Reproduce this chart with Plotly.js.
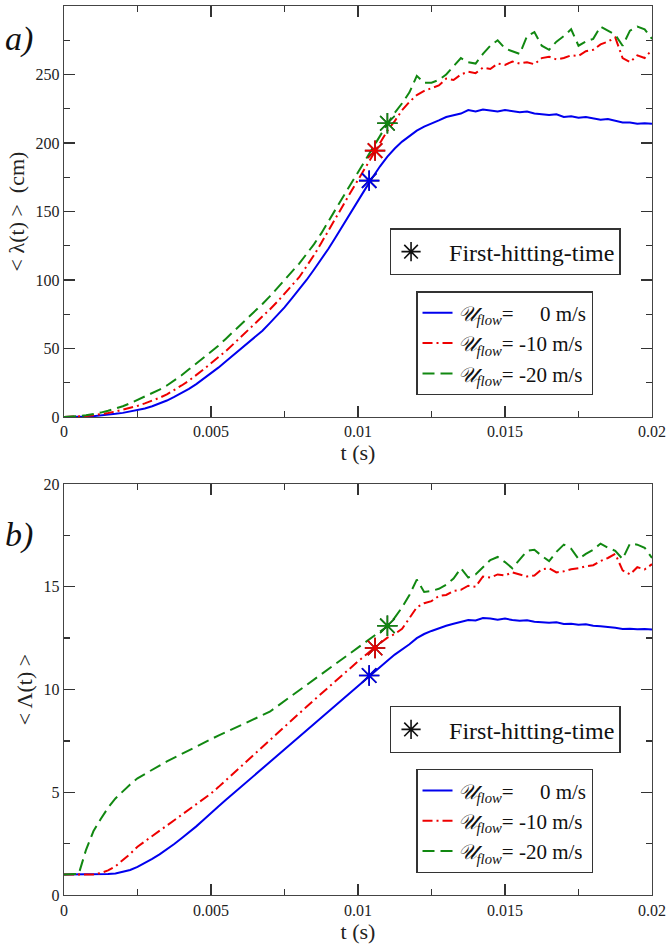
<!DOCTYPE html>
<html><head><meta charset="utf-8">
<script src="https://cdn.plot.ly/plotly-3.0.1.min.js"></script>
<style>html,body{margin:0;padding:0;background:#fff}
.plab{position:absolute;left:5px;font-family:"Liberation Serif","Times New Roman",serif;font-style:italic;font-size:34px;line-height:34px;color:#111}</style>
</head><body>
<div id="chart" style="width:666px;height:948px"></div>
<script>
// time grid (s)
const t = [0,0.00025,0.0005,0.00075,0.001,0.00125,0.0015,0.00175,0.002,0.00225,
0.0025,0.00275,0.003,0.00325,0.0035,0.00375,0.004,0.00425,0.0045,0.00475,
0.005,0.00525,0.0055,0.00575,0.006,0.00625,0.0065,0.00675,0.007,0.00725,
0.0075,0.00775,0.008,0.00825,0.0085,0.00875,0.009,0.00925,0.0095,0.00975,
0.01,0.01025,0.0105,0.01075,0.011,0.01125,0.0115,0.01175,0.012,0.01225,
0.0125,0.01275,0.013,0.01325,0.0135,0.01375,0.014,0.01425,0.0145,0.01475,
0.015,0.01525,0.0155,0.01575,0.016,0.01625,0.0165,0.01675,0.017,0.01725,
0.0175,0.01775,0.018,0.01825,0.0185,0.01875,0.019,0.01925,0.0195,0.01975,0.02];

// panel a: <lambda(t)> (cm)
const lam0 = [0,0,0.1,0.3,0.6,1.0,1.6,2.3,3.0,3.9,
4.8,6.2,7.8,9.8,12.0,14.6,17.4,20.5,24.0,27.8,
32,36,40.5,45,50,54.5,58.5,63,68.5,74,
80,86.5,93,100,107.5,115,123,131.5,140.5,149.5,
158,166.5,175,183,190,196,201,205,209,212,
214,216.5,219,220,221.5,224,223,224.5,224,223,
224,223,222.5,223,221.5,221,220.5,221,219,219.5,
218.5,219,218,217,217.5,216,215,215,214,214.5,214];
const lam10 = [0,0.1,0.3,0.7,1.3,2.0,2.9,4.0,5.3,6.6,
8.1,9.9,11.8,14,16.5,19.5,23,26.5,30.5,34.8,
39.2,43.5,48,53,58,63,68,73,78.5,84,
90,96,102,110,118,127,136.5,146,155,164,
173,182,191,200,209,216,224,230,235,238,
240,242,247,246,250,252,251,255,254,258,
257,259.5,258,259,257.5,262,263,261,262,264,
263.5,267,268,272,274,277,262,259,264,262,268];
const lam20 = [0,0.2,0.6,1.2,2.0,3.2,4.5,6.0,7.8,10,
12.4,14.8,17.3,20,23,26.5,30.5,34.8,39,43.3,
47.7,52,57,62,67,72,77,82.5,88,94,
100,106,112,119,126,134,142.5,152,161,170,
179,188,197,206,214,222,229,237,249,244,
244,246,250,256,262,259,258,265,271,275,
269,267,265,278,281,271,268,274,278,283,
271,274,276,285,282,279,271,282,285,283,276];

// panel b: <Lambda(t)>
const Lam0 = [1,1,1,1,1,1.0,1.02,1.05,1.12,1.22,
1.37,1.55,1.76,1.98,2.22,2.48,2.76,3.04,3.34,3.66,
4.0,4.31,4.62,4.93,5.24,5.55,5.86,6.17,6.48,6.79,
7.1,7.41,7.72,8.03,8.34,8.65,8.96,9.27,9.58,9.89,
10.2,10.5,10.8,11.1,11.4,11.7,11.95,12.2,12.5,12.7,
12.85,12.98,13.1,13.2,13.3,13.38,13.36,13.48,13.45,13.4,
13.45,13.38,13.35,13.37,13.3,13.27,13.25,13.27,13.19,13.2,
13.15,13.17,13.1,13.08,13.05,13.0,12.95,12.96,12.93,12.95,12.92];
const Lam10 = [1,1,1,1,1,1.07,1.2,1.4,1.68,2.0,
2.35,2.6,2.86,3.12,3.38,3.64,3.9,4.16,4.42,4.68,
4.94,5.25,5.58,5.9,6.23,6.56,6.9,7.23,7.56,7.88,
8.2,8.52,8.84,9.16,9.48,9.8,10.12,10.44,10.76,11.07,
11.37,11.67,11.97,12.25,12.52,12.7,12.95,13.5,14.0,14.2,
14.3,14.55,14.6,14.8,14.85,15.05,15.0,15.5,15.45,15.6,
15.55,15.7,15.6,15.5,15.55,15.85,15.9,15.7,15.75,15.85,
15.9,16.0,16.05,16.25,16.4,16.6,15.8,15.6,15.95,15.85,16.1];
const Lam20 = [1,1,1.02,2.2,3.1,3.7,4.25,4.7,5.05,5.38,
5.68,5.9,6.1,6.3,6.5,6.68,6.88,7.07,7.25,7.43,
7.6,7.76,7.92,8.09,8.26,8.42,8.59,8.75,8.92,9.18,
9.44,9.7,9.96,10.22,10.48,10.74,11.0,11.26,11.52,11.78,
12.04,12.3,12.56,12.82,13.08,13.5,14.0,14.6,15.35,14.75,
14.8,14.9,15.1,15.4,15.9,15.45,15.6,15.95,16.3,16.45,
16.2,15.9,16.3,16.75,16.8,16.5,16.25,16.7,17.05,16.85,
16.35,16.6,16.8,17.1,16.9,16.75,16.35,17.1,17.05,16.9,16.4];

// first-hitting-time points
const fhtT = [0.01038, 0.01058, 0.0110];
const fhtLam = [172.5, 194.4, 214.4];
const fhtBigLam = [10.68, 12.02, 13.1];

const seriesNames = [
  '<i>\u{1D4B0}</i><sub><i>flow</i></sub>=\u00a0\u00a0\u00a0\u00a0\u00a00 m/s',
  '<i>\u{1D4B0}</i><sub><i>flow</i></sub>= -10 m/s',
  '<i>\u{1D4B0}</i><sub><i>flow</i></sub>= -20 m/s'
];
const fhtName = '\u00a0\u00a0\u00a0First-hitting-time';
const panelLabels = ['a)', 'b)'];

const colors = ['#0000ee', '#ee0000', '#118811'];
const dashes = ['solid', '10px,4px,2px,4px', '12px,6px'];
const FONT = '"Liberation Serif", "Times New Roman", Times, serif';

const topSeries = [lam0, lam10, lam20];
const botSeries = [Lam0, Lam10, Lam20];
const traces = [];
topSeries.forEach((ys, k) => traces.push({
  x: t, y: ys, xaxis: 'x', yaxis: 'y', mode: 'lines', name: seriesNames[k],
  legend: 'legend2', line: {color: colors[k], width: 2, dash: dashes[k]}
}));
botSeries.forEach((ys, k) => traces.push({
  x: t, y: ys, xaxis: 'x2', yaxis: 'y2', mode: 'lines', name: seriesNames[k],
  legend: 'legend4', line: {color: colors[k], width: 2, dash: dashes[k]}
}));
// key entries (drawn under the coloured stars, which cover them exactly)
traces.push({x: fhtT, y: fhtLam, xaxis: 'x', yaxis: 'y', mode: 'markers', name: fhtName, legend: 'legend',
  marker: {symbol: 'asterisk-open', size: 17, color: '#111', line: {width: 1.6, color: '#111'}}});
traces.push({x: fhtT, y: fhtBigLam, xaxis: 'x2', yaxis: 'y2', mode: 'markers', name: fhtName, legend: 'legend3',
  marker: {symbol: 'asterisk-open', size: 17, color: '#111', line: {width: 1.6, color: '#111'}}});
[0,1,2].forEach(k => {
  traces.push({x: [fhtT[k]], y: [fhtLam[k]], xaxis: 'x', yaxis: 'y', mode: 'markers', showlegend: false,
    marker: {symbol: 'asterisk-open', size: 17, color: colors[k], line: {width: 1.6, color: colors[k]}}});
  traces.push({x: [fhtT[k]], y: [fhtBigLam[k]], xaxis: 'x2', yaxis: 'y2', mode: 'markers', showlegend: false,
    marker: {symbol: 'asterisk-open', size: 17, color: colors[k], line: {width: 1.6, color: colors[k]}}});
});

const axBase = {
  showline: true, linecolor: '#444', linewidth: 1.3, mirror: 'allticks',
  ticks: 'inside', ticklen: 11, tickwidth: 1.4, tickcolor: '#333',
  showgrid: false, zeroline: false,
  tickfont: {family: FONT, size: 16, color: '#222'}
};
const xax = (anchor) => Object.assign({}, axBase, {
  anchor: anchor, range: [0, 0.02], dtick: 0.005,
  minor: {dtick: 0.0025, ticks: 'inside', ticklen: 6},
  title: {text: 't (s)', font: {size: 22}, standoff: 0}
});
const legBase = {xanchor: 'left', yanchor: 'top', bordercolor: '#333', borderwidth: 1.3};

const layout = {
  width: 666, height: 948, margin: {l: 64, r: 14, t: 6, b: 53},
  showlegend: true,
  font: {family: FONT, color: '#222'},
  xaxis: xax('y'),
  xaxis2: xax('y2'),
  yaxis: Object.assign({}, axBase, {anchor: 'x', domain: [0.5377, 1], range: [0, 300], dtick: 50,
    minor: {dtick: 25, ticks: 'inside', ticklen: 6},
    title: {text: '&lt; λ(t) &gt;  (cm)', font: {size: 22}, standoff: 4}}),
  yaxis2: Object.assign({}, axBase, {anchor: 'x2', domain: [0, 0.4623], range: [0, 20], dtick: 5,
    minor: {dtick: 2.5, ticks: 'inside', ticklen: 6},
    title: {text: '&lt; Λ(t) &gt;', font: {size: 22}, standoff: 4}}),
  legend: Object.assign({}, legBase, {x: 0.554, y: 0.750, font: {size: 24, color: '#111'}}),
  legend2: Object.assign({}, legBase, {x: 0.599, y: 0.679, font: {size: 21, color: '#111'}}),
  legend3: Object.assign({}, legBase, {x: 0.554, y: 0.2126, font: {size: 24, color: '#111'}}),
  legend4: Object.assign({}, legBase, {x: 0.599, y: 0.1417, font: {size: 21, color: '#111'}})
};
Plotly.newPlot('chart', traces, layout, {displayModeBar: false, staticPlot: true}).then(gd => {
  // panel letters placed beside the two plot areas
  const tops = [22, 518];
  panelLabels.forEach((txt, i) => {
    const el = document.createElement('div');
    el.className = 'plab';
    el.style.top = tops[i] + 'px';
    el.textContent = txt;
    document.body.appendChild(el);
  });
});
</script>
</body></html>
